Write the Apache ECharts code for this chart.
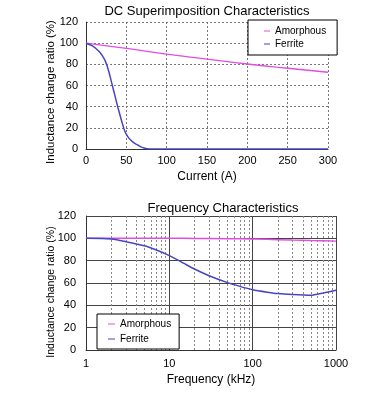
<!DOCTYPE html>
<html><head><meta charset="utf-8">
<script src="https://cdn.jsdelivr.net/npm/echarts@6/dist/echarts.min.js"></script>
<style>html,body{margin:0;padding:0;background:#fff}#c{width:387px;height:395px}</style>
</head><body><div id="c"></div>
<script>
// ---- DC Superimposition data ----
const dcCurrent = [0, 50, 100, 150, 200, 250, 300];
const dcAmorphous = [100, 95, 89.7, 85, 80.3, 76.3, 72.5];
const dcFerriteX = [0, 8, 16, 20, 24, 28, 32, 36, 40, 44, 48, 52, 56, 60, 64, 68, 72, 76, 80, 100, 150, 200, 250, 300];
const dcFerriteY = [100, 97.5, 92.4, 88.5, 83, 74, 62, 50, 38, 27, 17, 11.5, 8, 5.5, 3.8, 2, 1, 0.3, 0, 0, 0, 0, 0, 0];
// ---- Frequency data ----
const fqX = [1, 2, 5, 7, 10, 15, 20, 30, 50, 70, 100, 150, 200, 300, 500, 700, 1000];
const fqAmorphous = [100, 100, 100, 100, 100, 100, 99.9, 99.8, 99.7, 99.6, 99.4, 99.1, 98.8, 98.4, 98, 97.8, 97.5];
const fqFerrite = [100, 99.5, 93.3, 89.5, 84.5, 77.5, 72.5, 66.5, 60.3, 57, 54, 51.8, 50.5, 49.6, 49, 51, 53.5];
const minorTicks = [2,3,4,5,6,7,8,9,20,30,40,50,60,70,80,90,200,300,400,500,600,700,800,900];
const seriesNames = ['Amorphous', 'Ferrite'];

const C_AM = '#e04ee0', C_FE = '#4646c4';
const font = 'Liberation Sans, Arial, sans-serif';
const pair = (xs, ys) => xs.map((x, i) => [x, ys[i]]);

const chart = echarts.init(document.getElementById('c'), null, {renderer: 'canvas'});
const yName = 'Inductance change ratio (%)';
const axisLbl = {color: '#000', fontSize: 11, fontFamily: font};
const nameStyle = {color: '#000', fontSize: 12, fontFamily: font};
// short horizontal dash icon (tiny corner marks keep the 0..10 vertical box)
const dashIcon = 'path://M0,0L0.01,0L0,0.01Z M0,4.3L10,4.3L10,5.7L0,5.7Z M0,10L0.01,10L0,9.99Z';
const legendData = [
  {name: seriesNames[0], icon: dashIcon, itemStyle: {color: C_AM, borderWidth: 0}},
  {name: seriesNames[1], icon: dashIcon, itemStyle: {color: C_FE, borderWidth: 0}}
];
const legendCommon = {
  orient: 'vertical', data: legendData, borderColor: '#000', borderWidth: 1,
  backgroundColor: '#fff', z: 20, zlevel: 0,
  itemHeight: 10, lineStyle: {width: 0, opacity: 0},
  textStyle: {fontSize: 10, fontFamily: font, color: '#000', lineHeight: 12}, selectedMode: false
};

chart.setOption({
  animation: false,
  backgroundColor: '#fff',
  title: [
    {text: 'DC Superimposition Characteristics', left: 207, top: 5, padding: 0, textAlign: 'center',
     textStyle: {fontSize: 13, fontWeight: 'normal', color: '#000', fontFamily: font}},
    {text: 'Frequency Characteristics', left: 223, top: 202, padding: 0, textAlign: 'center',
     textStyle: {fontSize: 13, fontWeight: 'normal', color: '#000', fontFamily: font}}
  ],
  legend: [
    Object.assign({left: 248, top: 20, padding: [5, 11, 5, 16], itemGap: 1, itemWidth: 6}, legendCommon),
    Object.assign({left: 97, top: 314, padding: [4, 8, 4, 11], itemGap: 3, itemWidth: 7}, legendCommon)
  ],
  grid: [
    {left: 86, top: 22, width: 242, height: 127},
    {left: 86, top: 216, width: 250, height: 134}
  ],
  xAxis: [
    {type: 'value', gridIndex: 0, min: 0, max: 300, interval: 50,
     name: 'Current (A)', nameLocation: 'middle', nameGap: 22, nameTextStyle: nameStyle,
     axisLine: {show: true, lineStyle: {color: '#333'}}, axisTick: {show: false},
     axisLabel: Object.assign({margin: 6}, axisLbl),
     splitLine: {show: true, lineStyle: {color: '#777', type: [2, 2], width: 1}}},
    {type: 'log', gridIndex: 1, min: 1, max: 1000, logBase: 10,
     name: 'Frequency (kHz)', nameLocation: 'middle', nameGap: 24, nameTextStyle: nameStyle,
     axisLine: {show: true, lineStyle: {color: '#333'}}, axisTick: {show: false},
     axisLabel: Object.assign({margin: 8, formatter: v => String(Math.round(v))}, axisLbl),
     splitLine: {show: true, lineStyle: {color: '#444', width: 1}}}
  ],
  yAxis: [
    {type: 'value', gridIndex: 0, min: 0, max: 120, interval: 20,
     name: yName, nameLocation: 'middle', nameGap: 29, nameMoveOverlap: false,
     nameTextStyle: {color: '#000', fontSize: 11.5, fontFamily: font, padding: [0, 13, 0, 0]},
     axisLine: {show: true, lineStyle: {color: '#333'}}, axisTick: {show: false},
     axisLabel: Object.assign({margin: 8}, axisLbl),
     splitLine: {show: true, lineStyle: {color: '#777', type: [2, 2], width: 1}}},
    {type: 'value', gridIndex: 1, min: 0, max: 120, interval: 20,
     name: yName, nameLocation: 'middle', nameGap: 29.5, nameMoveOverlap: false,
     nameTextStyle: {color: '#000', fontSize: 10.5, fontFamily: font, padding: [0, 18, 0, 0]},
     axisLine: {show: true, lineStyle: {color: '#333'}}, axisTick: {show: false},
     axisLabel: Object.assign({margin: 10}, axisLbl),
     splitLine: {show: true, lineStyle: {color: '#444', width: 1}}}
  ],
  series: [
    {name: seriesNames[0], type: 'line', xAxisIndex: 0, yAxisIndex: 0, data: pair(dcCurrent, dcAmorphous),
     symbol: 'none', smooth: true, color: C_AM, lineStyle: {width: 1.3, color: C_AM}, z: 5},
    {name: seriesNames[1], type: 'line', xAxisIndex: 0, yAxisIndex: 0, data: pair(dcFerriteX, dcFerriteY),
     symbol: 'none', smooth: 0.3, color: C_FE, lineStyle: {width: 1.5, color: C_FE}, z: 5},
    {name: seriesNames[0], type: 'line', xAxisIndex: 1, yAxisIndex: 1, data: pair(fqX, fqAmorphous),
     symbol: 'none', smooth: false, color: C_AM, lineStyle: {width: 1.5, color: C_AM}, z: 5,
     markLine: {silent: true, symbol: 'none', label: {show: false}, animation: false,
       lineStyle: {color: '#888', type: [2, 2], width: 1},
       data: minorTicks.map(v => ({xAxis: v}))}},
    {name: seriesNames[1], type: 'line', xAxisIndex: 1, yAxisIndex: 1, data: pair(fqX, fqFerrite),
     symbol: 'none', smooth: 0.2, color: C_FE, lineStyle: {width: 1.5, color: C_FE}, z: 5}
  ]
});
</script></body></html>
